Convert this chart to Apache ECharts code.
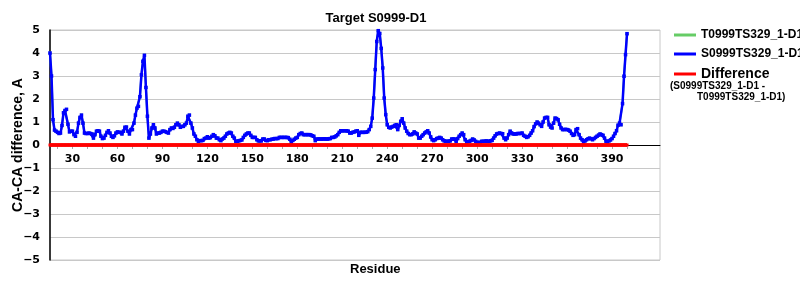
<!DOCTYPE html>
<html>
<head>
<meta charset="utf-8">
<script src="https://cdn.jsdelivr.net/npm/echarts@6/dist/echarts.min.js"></script>
<style>html,body{margin:0;padding:0;background:#fff}#c{width:800px;height:300px}</style>
</head>
<body>
<div id="c"></div>
<script>
const firstResidue = 15;
const s0999 = [
 4.0, 3.0, 1.1, 0.65, 0.6, 0.55, 0.5, 0.52, 0.85, 1.4,
 1.5, 1.55, 0.9, 0.57, 0.6, 0.6, 0.45, 0.38, 0.55, 0.95,
 1.2, 1.3, 0.95, 0.52, 0.5, 0.5, 0.52, 0.5, 0.48, 0.3,
 0.45, 0.6, 0.62, 0.6, 0.38, 0.28, 0.3, 0.42, 0.55, 0.62,
 0.52, 0.38, 0.33, 0.4, 0.52, 0.57, 0.55, 0.55, 0.48, 0.6,
 0.77, 0.78, 0.6, 0.48, 0.67, 0.67, 0.95, 1.3, 1.6, 1.68,
 2.1, 3.05, 3.64, 3.9, 2.5, 1.25, 0.3, 0.48, 0.74, 0.88,
 0.74, 0.48, 0.52, 0.52, 0.55, 0.6, 0.6, 0.58, 0.55, 0.52,
 0.67, 0.74, 0.72, 0.77, 0.88, 0.95, 0.88, 0.77, 0.81, 0.81,
 0.88, 0.95, 1.25, 1.3, 0.95, 0.74, 0.48, 0.38, 0.23, 0.16,
 0.19, 0.19, 0.2, 0.28, 0.3, 0.36, 0.3, 0.32, 0.38, 0.45,
 0.4, 0.3, 0.3, 0.23, 0.19, 0.26, 0.3, 0.38, 0.48, 0.52,
 0.55, 0.52, 0.38, 0.3, 0.16, 0.16, 0.18, 0.2, 0.22, 0.33,
 0.42, 0.48, 0.52, 0.52, 0.42, 0.33, 0.33, 0.33, 0.23, 0.18,
 0.18, 0.18, 0.26, 0.26, 0.2, 0.19, 0.23, 0.23, 0.25, 0.26,
 0.28, 0.28, 0.28, 0.33, 0.33, 0.33, 0.33, 0.33, 0.33, 0.32,
 0.25, 0.12, 0.2, 0.25, 0.3, 0.33, 0.45, 0.5, 0.52, 0.45,
 0.45, 0.45, 0.45, 0.45, 0.44, 0.4, 0.38, 0.19, 0.26, 0.26,
 0.26, 0.26, 0.26, 0.27, 0.26, 0.26, 0.27, 0.28, 0.33, 0.33,
 0.35, 0.4, 0.45, 0.55, 0.62, 0.62, 0.62, 0.62, 0.62, 0.6,
 0.52, 0.52, 0.55, 0.57, 0.6, 0.62, 0.42, 0.55, 0.55, 0.55,
 0.55, 0.56, 0.58, 0.67, 0.81, 1.17, 2.04, 3.28, 4.5, 4.97,
 4.85, 4.2, 3.35, 2.04, 1.32, 0.88, 0.77, 0.74, 0.78, 0.81,
 0.85, 0.88, 0.67, 0.85, 1.03, 1.14, 0.95, 0.74, 0.6, 0.5,
 0.45, 0.45, 0.48, 0.57, 0.52, 0.48, 0.3, 0.3, 0.38, 0.45,
 0.52, 0.57, 0.62, 0.52, 0.35, 0.23, 0.19, 0.23, 0.28, 0.3,
 0.33, 0.3, 0.23, 0.18, 0.16, 0.16, 0.16, 0.18, 0.26, 0.26,
 0.26, 0.16, 0.28, 0.38, 0.45, 0.52, 0.45, 0.23, 0.13, 0.15,
 0.16, 0.2, 0.26, 0.22, 0.16, 0.12, 0.09, 0.12, 0.16, 0.16,
 0.16, 0.18, 0.16, 0.16, 0.18, 0.2, 0.3, 0.4, 0.48, 0.5,
 0.52, 0.5, 0.49, 0.3, 0.23, 0.3, 0.45, 0.6, 0.52, 0.48,
 0.48, 0.48, 0.5, 0.5, 0.5, 0.52, 0.42, 0.38, 0.33, 0.36,
 0.42, 0.52, 0.62, 0.8, 0.92, 1.0, 0.95, 0.88, 0.81, 1.0,
 1.17, 1.2, 1.2, 0.88, 0.78, 0.74, 0.95, 1.17, 1.15, 1.1,
 0.9, 0.74, 0.67, 0.67, 0.68, 0.67, 0.65, 0.6, 0.5, 0.42,
 0.45, 0.67, 0.71, 0.45, 0.3, 0.23, 0.12, 0.18, 0.23, 0.27,
 0.3, 0.27, 0.23, 0.28, 0.33, 0.38, 0.43, 0.48, 0.45, 0.42,
 0.3, 0.16, 0.13, 0.18, 0.22, 0.28, 0.38, 0.5, 0.62, 0.86,
 0.95, 0.88, 1.8, 2.99, 3.93, 4.84
];
// T0999 model coincides with S0999 (the difference curve is flat at zero)
const t0999 = s0999.slice();
const xTickValues = [20,30,40,50,60,70,80,90,100,110,120,130,140,150,160,170,180,190,200,210,220,230,240,250,260,270,280,290,300,310,320,330,340,350,360,370,380,390,400];
const xLabelValues = [30,60,90,120,150,180,210,240,270,300,330,360,390];

const residues = s0999.map((_, i) => firstResidue + i);
const sData = residues.map((r, i) => [r, s0999[i]]);
const tData = residues.map((r, i) => [r, t0999[i]]);
const dData = residues.map((r, i) => [r, +(s0999[i] - t0999[i]).toFixed(2)]);

const chart = echarts.init(document.getElementById('c'), null, {renderer: 'canvas'});
const lab = {fontFamily: 'DejaVu Sans', fontWeight: 'bold', fontSize: 11, color: '#000'};
chart.setOption({
  animation: false,
  backgroundColor: '#fff',
  title: {
    text: 'Target S0999-D1', left: 371, top: 7, textAlign: 'center',
    textStyle: {fontFamily: 'Liberation Sans', fontWeight: 'bold', fontSize: 13, color: '#000'}
  },
  grid: {left: 50, right: 140, top: 30, bottom: 40, containLabel: false, outerBoundsMode: 'none',
         show: true, borderColor: '#c8c8c8', borderWidth: 1, backgroundColor: 'transparent'},
  legend: {
    orient: 'vertical', left: 669, top: 24, itemWidth: 22, itemHeight: 3, itemGap: 7, icon: 'rect',
    textStyle: {fontFamily: 'Liberation Sans', fontWeight: 'bold', fontSize: 12, color: '#000'},
    data: [
      {name: 'T0999TS329_1-D1'},
      {name: 'S0999TS329_1-D1'},
      {name: 'Difference', textStyle: {fontSize: 14}}
    ]
  },
  xAxis: {
    type: 'value', min: 15, max: 422, offset: -115,
    axisLine: {onZero: false, lineStyle: {color: '#000', width: 1}},
    axisTick: {show: true, customValues: xTickValues, length: 4, lineStyle: {color: '#aaa'}},
    axisLabel: Object.assign({customValues: xLabelValues, margin: 9}, lab),
    splitLine: {show: false}
  },
  yAxis: {
    type: 'value', min: -5, max: 5, interval: 1,
    name: 'CA-CA difference, A', nameLocation: 'middle', nameGap: 25, nameMoveOverlap: false,
    nameTextStyle: {fontFamily: 'Liberation Sans', fontWeight: 'bold', fontSize: 14, color: '#000'},
    axisLine: {show: true, onZero: false, lineStyle: {color: '#000', width: 1.5}},
    axisTick: {show: false},
    axisLabel: Object.assign({margin: 10, formatter: v => String(v).replace('-', '\u2212')}, lab),
    splitLine: {show: true, lineStyle: {color: '#c8c8c8', width: 1}}
  },
  graphic: [
    {type: 'text', left: 350, top: 263, style: {text: 'Residue', fontFamily: 'Liberation Sans', fontWeight: 'bold', fontSize: 13, fill: '#000'}},
    {type: 'text', left: 670, top: 81, style: {text: '(S0999TS329_1-D1 -', fontFamily: 'Liberation Sans', fontWeight: 'bold', fontSize: 10, fill: '#000'}},
    {type: 'text', left: 697, top: 92, style: {text: 'T0999TS329_1-D1)', fontFamily: 'Liberation Sans', fontWeight: 'bold', fontSize: 10, fill: '#000'}}
  ],
  series: [
    {name: 'T0999TS329_1-D1', type: 'line', data: tData, color: '#66cc66',
     lineStyle: {width: 2}, symbol: 'rect', symbolSize: 3, showSymbol: true, z: 2},
    {name: 'S0999TS329_1-D1', type: 'line', data: sData, color: '#0000ff',
     lineStyle: {width: 2.5}, symbol: 'rect', symbolSize: 3.5, showSymbol: true, z: 3},
    {name: 'Difference', type: 'line', data: dData, color: '#ff0000',
     lineStyle: {width: 3.5}, symbol: 'rect', symbolSize: 3, showSymbol: true, z: 4}
  ]
});
</script>
</body>
</html>
